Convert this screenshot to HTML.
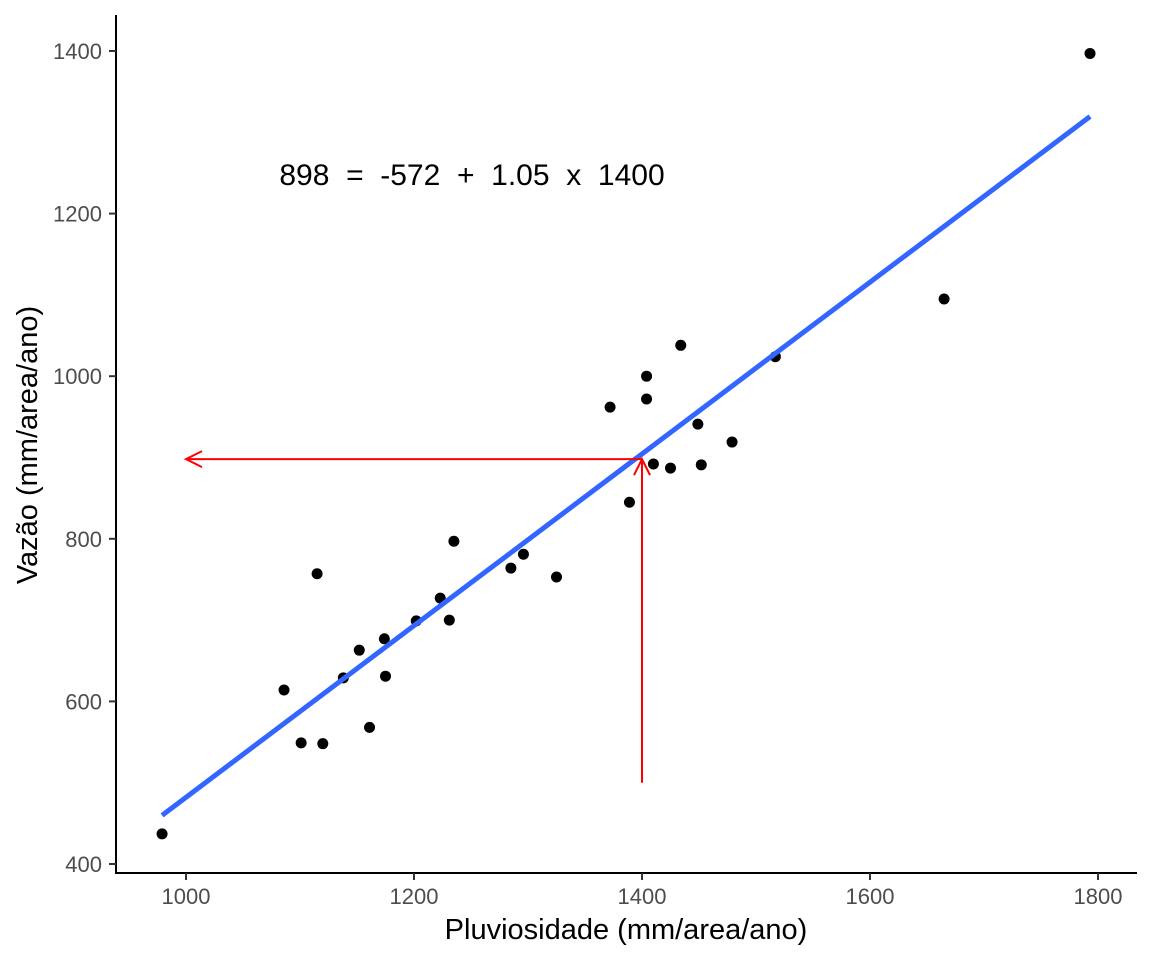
<!DOCTYPE html>
<html><head><meta charset="utf-8"><style>
html,body{margin:0;padding:0;background:#fff;}
svg{display:block;font-family:"Liberation Sans",sans-serif;}
</style></head><body>
<svg id="chart" width="1152" height="960" viewBox="0 0 1152 960" xmlns="http://www.w3.org/2000/svg">
<g id="axes"></g>
<g id="marks"></g>
<text x="472" y="185" text-anchor="middle" font-size="30" fill="#000" xml:space="preserve">898  =  -572  +  1.05  x  1400</text>
<text x="626" y="939" text-anchor="middle" font-size="29" fill="#000">Pluviosidade (mm/area/ano)</text>
<text transform="translate(37,445) rotate(-90)" text-anchor="middle" font-size="29" fill="#000">Vazão (mm/area/ano)</text>
</svg>
<script>
const xs = [979,1086,1101,1115,1120,1138,1152,1161,1174,1175,1202,1223,1231,1235,1285,1296,1325,1372,1389,1404,1404,1410,1425,1434,1449,1452,1479,1517,1665,1793];
const ys = [437,614,549,757,548,629,663,568,677,631,699,727,700,797,764,781,753,962,845,1000,972,892,887,1038,941,891,919,1024,1095,1397];
const xTicks = [1000,1200,1400,1600,1800];
const yTicks = [400,600,800,1000,1200,1400];
const fitIntercept = -574, fitSlope = 1.056;
const predX = 1400, predY = 898, arrowFromY = 500;

const NS="http://www.w3.org/2000/svg";
const X = v => 186 + (v-1000)*1.14;
const Y = v => 864 - (v-400)*0.813;
function mk(tag, attrs, parent){const e=document.createElementNS(NS,tag);for(const k in attrs)e.setAttribute(k,attrs[k]);parent.appendChild(e);return e;}
const axes=document.getElementById('axes'), marks=document.getElementById('marks');

let e=mk('line',{x1:116,y1:15,x2:116,y2:874,stroke:'#000','stroke-width':2},axes);


e=mk('line',{x1:115,y1:873,x2:1137,y2:873,stroke:'#000','stroke-width':2},axes);


xTicks.forEach(t=>{
  const l=mk('line',{x1:X(t),y1:873,x2:X(t),y2:880,stroke:'#333','stroke-width':2},axes);
  
  
  const tx=mk('text',{x:X(t),y:904,'text-anchor':'middle','font-size':22,fill:'#4d4d4d'},axes);
  tx.textContent=t;
  
  
});
yTicks.forEach(t=>{
  const l=mk('line',{x1:109,y1:Y(t),x2:116,y2:Y(t),stroke:'#333','stroke-width':2},axes);
  
  
  const tx=mk('text',{x:102,y:Y(t)+8,'text-anchor':'end','font-size':22,fill:'#4d4d4d'},axes);
  tx.textContent=t;
  
  
});
xs.forEach((v,i)=>{
  const c=mk('circle',{cx:X(v),cy:Y(ys[i]),r:5.5,fill:'#000'},marks);
  
  
});
const xmin=Math.min(...xs), xmax=Math.max(...xs);
e=mk('line',{x1:X(xmin),y1:Y(fitIntercept+fitSlope*xmin),x2:X(xmax),y2:Y(fitIntercept+fitSlope*xmax),stroke:'#3366ff','stroke-width':5},marks);


const ax=X(predX), ay=Y(predY), ax0=X(xTicks[0]);
e=mk('path',{d:`M${ax},${Y(arrowFromY)}V${ay} M${ax-8},${ay+16}L${ax},${ay}L${ax+8},${ay+16}`,stroke:'#ff0000','stroke-width':2,fill:'none'},marks);


e=mk('path',{d:`M${ax},${ay}H${ax0} M${ax0+16},${ay-8}L${ax0},${ay}L${ax0+16},${ay+8}`,stroke:'#ff0000','stroke-width':2,fill:'none'},marks);


</script>
</body></html>
